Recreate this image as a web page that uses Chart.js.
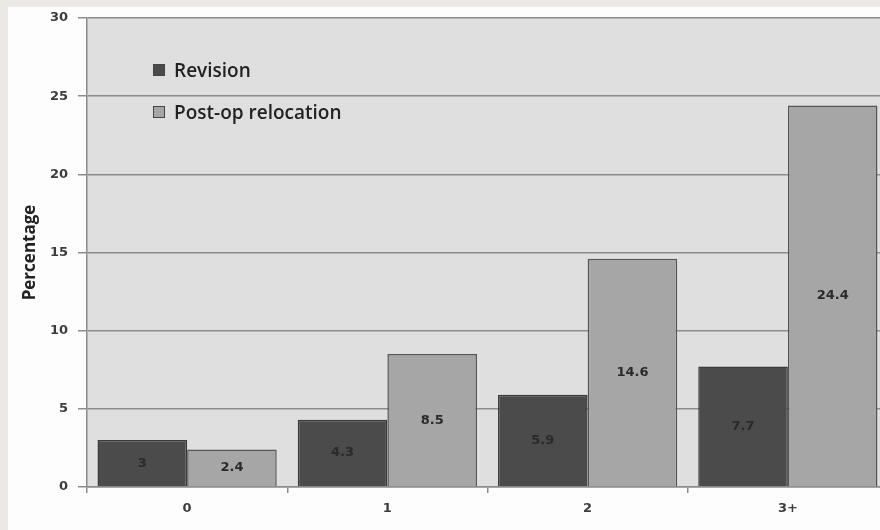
<!DOCTYPE html>
<html>
<head>
    <title>Revision and relocation</title>
    <style>
        body {
            background-color: #eae9e5;
            margin: 0;
            padding: 0;
            width: 880px;
            height: 530px;
            overflow: hidden;
            position: relative;
        }
        .card {
            position: absolute;
            left: 8px;
            top: 7px;
            width: 880px;
            height: 523px;
            background-color: #fdfdfd;
        }
        #chart {
            position: absolute;
            left: 0;
            top: 0;
        }
        .legend {
            position: absolute;
            left: 145px;
            top: 42px;
            font-family: "Open Sans", sans-serif;
            font-size: 19px;
            font-weight: 600;
            color: #222222;
        }
        .legend div {
            display: flex;
            align-items: center;
            height: 42px;
        }
        .legend span.box {
            display: inline-block;
            width: 12px;
            height: 12px;
            margin-right: 9px;
            box-sizing: border-box;
            border: 1px solid #444444;
        }
    </style>
    <script src="https://cdn.jsdelivr.net/npm/chart.js@4.4.0/dist/chart.umd.min.js"></script>
</head>
<body>
    <div class="card">
        <canvas id="chart" width="880" height="523"></canvas>
        <div class="legend" id="legend"></div>
    </div>
    <script>
        // valores
        var categories = ["0", "1", "2", "3+"];
        var revision = [3, 4.3, 5.9, 7.7];
        var postOpRelocation = [2.4, 8.5, 14.6, 24.4];
        var seriesNames = ["Revision", "Post-op relocation"];
        var yTicks = [0, 5, 10, 15, 20, 25, 30];

        var fills = ["#4b4b4b", "#a6a6a6"];

        // fundo cinza da area do grafico
        var plotBackground = {
            id: "plotBackground",
            beforeDraw: function(chart) {
                var a = chart.chartArea;
                var ctx = chart.ctx;
                ctx.save();
                ctx.fillStyle = "#dfdfdf";
                ctx.fillRect(a.left, a.top, a.right - a.left, a.bottom - a.top);
                ctx.restore();
            }
        };

        // rotulos dentro das barras
        var barLabels = {
            id: "barLabels",
            afterDatasetsDraw: function(chart) {
                var ctx = chart.ctx;
                ctx.save();
                ctx.font = "bold 13px 'DejaVu Sans'";
                ctx.fillStyle = "#2a2a2a";
                ctx.textAlign = "center";
                ctx.textBaseline = "middle";
                chart.data.datasets.forEach(function(ds, i) {
                    chart.getDatasetMeta(i).data.forEach(function(bar, j) {
                        ctx.fillText(String(ds.data[j]), bar.x, (bar.y + bar.base) / 2);
                    });
                });
                ctx.restore();
            }
        };

        var tickFont = { family: "DejaVu Sans", size: 13, weight: "bold" };

        var ctx = document.getElementById("chart").getContext("2d");
        var chart = new Chart(ctx, {
            type: "bar",
            data: {
                labels: categories,
                datasets: [{
                    label: seriesNames[0],
                    data: revision,
                    backgroundColor: fills[0],
                    borderColor: "#3a3a3a",
                    borderWidth: 1.5
                }, {
                    label: seriesNames[1],
                    data: postOpRelocation,
                    backgroundColor: fills[1],
                    borderColor: "#555555",
                    borderWidth: 1.5
                }]
            },
            options: {
                responsive: false,
                animation: false,
                layout: {
                    padding: { top: 11, right: 0, left: 0, bottom: 0 }
                },
                datasets: {
                    bar: {
                        categoryPercentage: 0.895,
                        barPercentage: 1
                    }
                },
                scales: {
                    x: {
                        offset: true,
                        grid: {
                            offset: true,
                            drawOnChartArea: false,
                            drawTicks: true,
                            tickLength: 6,
                            color: "#8c8c8c",
                            lineWidth: 1.5
                        },
                        border: { color: "#8c8c8c", width: 1.5 },
                        ticks: {
                            padding: 8,
                            color: "#3c3c3c",
                            font: tickFont
                        },
                        afterFit: function(scale) { scale.height = 43; }
                    },
                    y: {
                        min: 0,
                        max: 30,
                        afterBuildTicks: function(scale) {
                            scale.ticks = yTicks.map(function(v) { return { value: v }; });
                        },
                        grid: {
                            color: "#8c8c8c",
                            lineWidth: 1.5,
                            tickLength: 9
                        },
                        border: { color: "#8c8c8c", width: 1.5 },
                        ticks: {
                            padding: 10,
                            color: "#3c3c3c",
                            font: tickFont
                        },
                        title: {
                            display: true,
                            text: "Percentage",
                            color: "#222222",
                            font: { family: "Open Sans", size: 17, weight: "bold" },
                            padding: { top: 12, bottom: 0 }
                        },
                        afterFit: function(scale) {
                            scale.width = 79;
                            // o padding dos rotulos nao deve empurrar a area do grafico
                            scale.paddingTop = 0;
                            scale.paddingBottom = 0;
                        }
                    }
                },
                plugins: {
                    legend: { display: false },
                    tooltip: { enabled: false }
                }
            },
            plugins: [plotBackground, barLabels]
        });

        // legenda em html
        var legend = document.getElementById("legend");
        seriesNames.forEach(function(name, i) {
            var row = document.createElement("div");
            var box = document.createElement("span");
            box.className = "box";
            box.style.backgroundColor = fills[i];
            row.appendChild(box);
            row.appendChild(document.createTextNode(name));
            legend.appendChild(row);
        });
    </script>
</body>
</html>
